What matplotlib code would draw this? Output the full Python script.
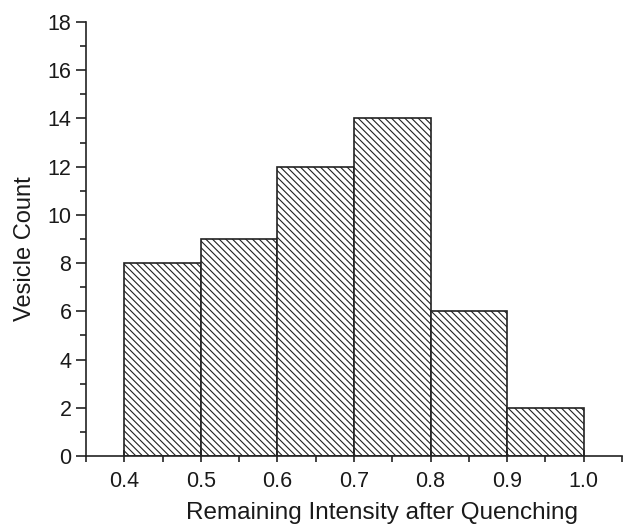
import matplotlib
matplotlib.use("Agg")
import matplotlib.pyplot as plt
from matplotlib.ticker import MultipleLocator

plt.rcParams['font.family'] = ['Liberation Sans', 'DejaVu Sans']
plt.rcParams['hatch.linewidth'] = 0.8

bin_edges = [0.4, 0.5, 0.6, 0.7, 0.8, 0.9, 1.0]
counts = [8, 9, 12, 14, 6, 2]
xticks = [0.4, 0.5, 0.6, 0.7, 0.8, 0.9, 1.0]
xticklabels = ["0.4", "0.5", "0.6", "0.7", "0.8", "0.9", "1.0"]
yticks = [0, 2, 4, 6, 8, 10, 12, 14, 16, 18]

col = '#222222'
txt = '#1a1a1a'
plt.rcParams['hatch.color'] = col

fig = plt.figure(figsize=(6.24, 5.29), dpi=100)
ax = fig.add_axes([86/624, 73/529, 536/624, 434/529])

lefts = bin_edges[:-1]
widths = [b - a for a, b in zip(bin_edges[:-1], bin_edges[1:])]
ax.bar(lefts, counts, width=widths, align='edge', facecolor='white',
       edgecolor=col, linewidth=1.2, hatch='\\\\\\\\\\')

ax.set_xlim(0.35, 1.05)
ax.set_ylim(0, 18)
ax.set_xticks(xticks)
ax.set_xticklabels(xticklabels)
ax.set_yticks(yticks)
ax.xaxis.set_minor_locator(MultipleLocator(0.05))
ax.yaxis.set_minor_locator(MultipleLocator(1))

for s in ['top', 'right']:
    ax.spines[s].set_visible(False)
for s in ['left', 'bottom']:
    ax.spines[s].set_color(col)
    ax.spines[s].set_linewidth(1.2)

ax.tick_params(axis='y', which='major', direction='out', length=7, width=1.2, color=col,
               labelsize=15.5, labelcolor=txt, pad=3.5)
ax.tick_params(axis='y', which='minor', direction='out', length=4, width=1.2, color=col)
ax.tick_params(axis='x', which='major', direction='inout', length=8, width=1.2, color=col,
               labelsize=15.5, labelcolor=txt, pad=7)
ax.tick_params(axis='x', which='minor', direction='out', length=4, width=1.2, color=col)

ax.set_xlabel("Remaining Intensity after Quenching", fontsize=17.5, color=txt, va='top')
ax.xaxis.set_label_coords(0.553, -0.106)
ax.set_ylabel("Vesicle Count", fontsize=17, color=txt, va='center')
ax.yaxis.set_label_coords(-0.113, 0.477)

fig.savefig("out.png", dpi=100)
